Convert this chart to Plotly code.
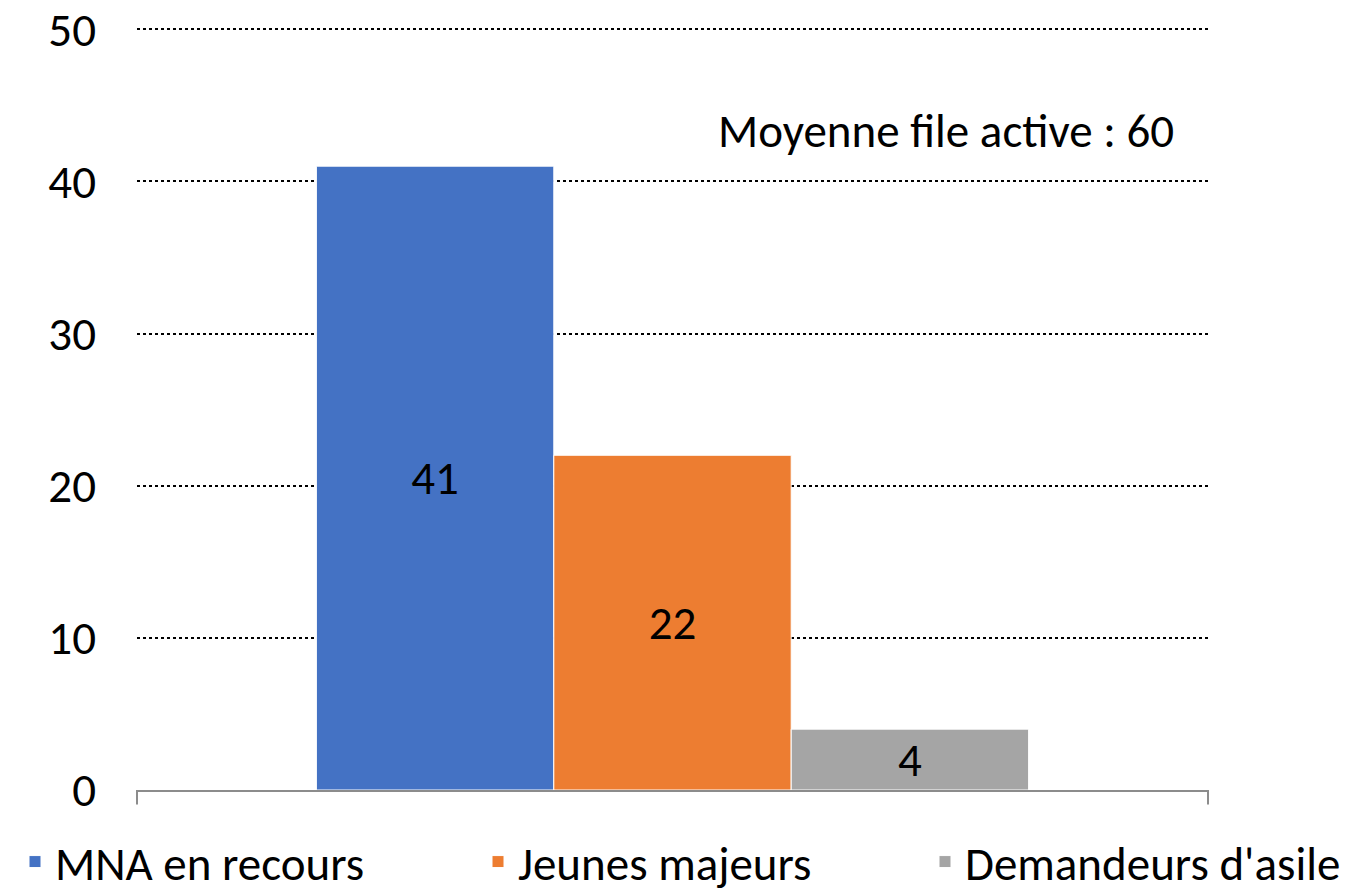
import plotly.graph_objects as go

categories = ["MNA en recours", "Jeunes majeurs", "Demandeurs d'asile"]
values = [41, 22, 4]
colors = ["#4472C4", "#ED7D31", "#A5A5A5"]
y_ticks = [0, 10, 20, 30, 40, 50]
note_text = "Moyenne file active : 60"

FONT = "Carlito, Lato, sans-serif"
FS = 47
W, H = 1349, 885  # page body has an 8px margin in the 1357x893 window

legend_ids = ["legend", "legend2", "legend3"]
legend_x = [7 / W, 470 / W, 917 / W]

fig = go.Figure()
for name, val, col, lid in zip(categories, values, colors, legend_ids):
    fig.add_trace(go.Bar(
        x=["Total"], y=[val], name=name, legend=lid,
        marker=dict(color=col, line=dict(color="white", width=1)),
        text=[str(val)], textposition="inside", insidetextanchor="middle",
        textangle=0, constraintext="none", cliponaxis=False,
        textfont=dict(family=FONT, size=FS, color="black"),
        hoverinfo="skip",
    ))

legend_common = dict(
    orientation="h", xref="container", yref="container",
    y=0.035, xanchor="left", yanchor="middle",
    font=dict(family=FONT, size=FS, color="black"),
    itemclick=False, bgcolor="rgba(0,0,0,0)",
)

fig.update_layout(
    width=W, height=H,
    margin=dict(l=129, r=149, t=20, b=103, autoexpand=False),
    paper_bgcolor="white", plot_bgcolor="white",
    barmode="group", bargap=0.335, bargroupgap=0,
    font=dict(family=FONT, size=FS, color="black"),
    showlegend=True,
    legend=dict(x=legend_x[0], **legend_common),
    legend2=dict(x=legend_x[1], **legend_common),
    legend3=dict(x=legend_x[2], **legend_common),
    uniformtext=dict(minsize=FS, mode="show"),
)
fig.update_xaxes(
    showticklabels=False, showline=True, linecolor="#8C8C8C", linewidth=2,
    ticks="", showgrid=False, zeroline=False,
)
fig.update_yaxes(
    range=[0, 50.08], tickvals=y_ticks, showline=False, zeroline=False,
    showgrid=True, gridcolor="black", gridwidth=2, griddash="dot",
    ticks="", ticklabelstandoff=40, ticklabeloverflow="allow",
    tickfont=dict(family=FONT, size=FS, color="black"),
)
# end tick marks of the category axis
for xp in (0, 1):
    fig.add_shape(type="line", xref="paper", yref="paper",
                  x0=xp, x1=xp, y0=0, y1=-0.019,
                  line=dict(color="#8C8C8C", width=2))

fig.add_annotation(
    xref="paper", yref="y", x=0.755, y=43.3, text=note_text,
    xanchor="center", yanchor="middle",
    showarrow=False, font=dict(family=FONT, size=FS, color="black"),
)

fig.write_html("out.html")
